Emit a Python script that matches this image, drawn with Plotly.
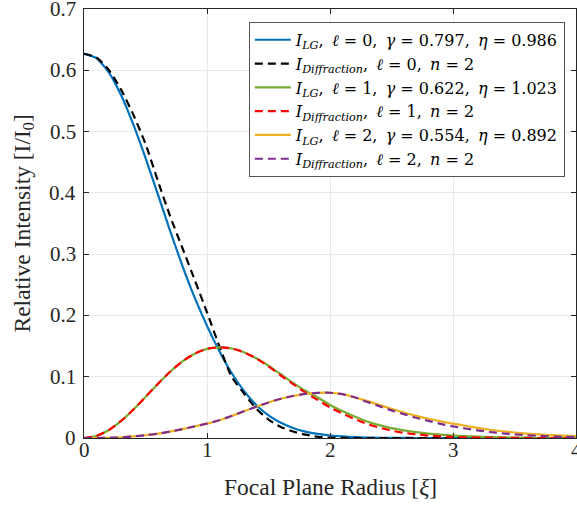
import plotly.graph_objects as go

# Focal plane radius samples
radius = [round(0.1 * i, 1) for i in range(41)]

# LG, l=0 (solid blue)
lg0 = [0.627, 0.620, 0.597, 0.560, 0.512, 0.457, 0.398, 0.338, 0.281, 0.229,
       0.183, 0.142, 0.106, 0.077, 0.054, 0.037, 0.0248, 0.0164, 0.0105, 0.0066,
       0.0041, 0.0025, 0.0015, 0.0008, 0.0004, 0.0002, 0.0001, 0.0, 0.0, 0.0,
       0.0, 0.0, 0.0, 0.0, 0.0, 0.0, 0.0, 0.0, 0.0, 0.0, 0.0]
# Diffraction, l=0 (dashed black)
diff0 = [0.627, 0.621, 0.601, 0.569, 0.528, 0.480, 0.420, 0.362, 0.310, 0.258,
         0.205, 0.150, 0.100, 0.073, 0.048, 0.030, 0.018, 0.0105, 0.0055, 0.002,
         0.0005, 0.0001, 0.0, 0.0, 0.0, 0.0, 0.0, 0.0, 0.0, 0.0,
         0.0, 0.0, 0.0, 0.0, 0.0, 0.0, 0.0, 0.0, 0.0, 0.0, 0.0]
# LG, l=1 (solid green)
lg1 = [0.0, 0.0033, 0.0127, 0.0275, 0.046, 0.067, 0.088, 0.108, 0.125, 0.1375,
       0.1455, 0.148, 0.146, 0.140, 0.130, 0.118, 0.104, 0.090, 0.077, 0.066,
       0.054, 0.044, 0.035, 0.027, 0.021, 0.016, 0.0125, 0.0095, 0.0072, 0.0054,
       0.004, 0.003, 0.0022, 0.0016, 0.0011, 0.0008, 0.0005, 0.0003, 0.0002, 0.0001, 0.0001]
# Diffraction, l=1 (dashed red)
diff1 = [0.0, 0.0033, 0.0127, 0.0275, 0.046, 0.067, 0.088, 0.108, 0.125, 0.1375,
         0.1455, 0.148, 0.146, 0.140, 0.130, 0.117, 0.102, 0.088, 0.074, 0.062,
         0.050, 0.040, 0.031, 0.023, 0.017, 0.012, 0.0085, 0.006, 0.004, 0.0027,
         0.0018, 0.0012, 0.0008, 0.0005, 0.0003, 0.0002, 0.0001, 0.0, 0.0, 0.0, 0.0]
# LG, l=2 (solid yellow)
lg2 = [0.0, 0.0, 0.0003, 0.001, 0.0025, 0.0045, 0.007, 0.0105, 0.0145, 0.019,
       0.0235, 0.029, 0.036, 0.0435, 0.051, 0.058, 0.064, 0.0685, 0.072, 0.0737,
       0.0738, 0.0715, 0.0665, 0.0605, 0.054, 0.0475, 0.0415, 0.036, 0.0315, 0.0272,
       0.0235, 0.020, 0.0165, 0.0135, 0.011, 0.009, 0.0072, 0.0058, 0.0047, 0.0038, 0.003]
# Diffraction, l=2 (dashed purple)
diff2 = [0.0, 0.0, 0.0003, 0.001, 0.0025, 0.0045, 0.007, 0.0105, 0.0145, 0.019,
         0.0235, 0.029, 0.036, 0.0435, 0.051, 0.058, 0.064, 0.0685, 0.072, 0.0737,
         0.0738, 0.0715, 0.0665, 0.059, 0.052, 0.045, 0.039, 0.033, 0.028, 0.023,
         0.019, 0.0155, 0.0125, 0.0098, 0.0077, 0.006, 0.0046, 0.0035, 0.0026, 0.0019, 0.0014]

x_ticks = [0, 1, 2, 3, 4]
x_tick_labels = ["0", "1", "2", "3", "4"]
y_ticks = [0, 0.1, 0.2, 0.3, 0.4, 0.5, 0.6, 0.7]
y_tick_labels = ["0", "0.1", "0.2", "0.3", "0.4", "0.5", "0.6", "0.7"]

c = ",\u2009 "
names = [
    f"<i>I</i><sub><i>LG</i></sub>{c}<i>ℓ</i> = 0{c}<i>γ</i> = 0.797{c}<i>η</i> = 0.986",
    f"<i>I</i><sub><i>Diffraction</i></sub>{c}<i>ℓ</i> = 0{c}<i>n</i> = 2",
    f"<i>I</i><sub><i>LG</i></sub>{c}<i>ℓ</i> = 1{c}<i>γ</i> = 0.622{c}<i>η</i> = 1.023",
    f"<i>I</i><sub><i>Diffraction</i></sub>{c}<i>ℓ</i> = 1{c}<i>n</i> = 2",
    f"<i>I</i><sub><i>LG</i></sub>{c}<i>ℓ</i> = 2{c}<i>γ</i> = 0.554{c}<i>η</i> = 0.892",
    f"<i>I</i><sub><i>Diffraction</i></sub>{c}<i>ℓ</i> = 2{c}<i>n</i> = 2",
]
series = [lg0, diff0, lg1, diff1, lg2, diff2]
colors = ["#0072BD", "#000000", "#77AC30", "#FF0000", "#EDB120", "#7E2F8E"]
dashes = ["solid", "8px,5px", "solid", "8px,5px", "solid", "8px,5px"]

SERIF = "Liberation Serif, Times New Roman, serif"
LEGEND_FONT = "DejaVu Serif, serif"
TXT = "#262626"

fig = go.Figure()
for name, ys, col, d in zip(names, series, colors, dashes):
    fig.add_trace(go.Scatter(x=radius, y=ys, mode="lines", name=name,
                             line=dict(color=col, width=2.2, dash=d, shape="spline", smoothing=0.6)))

axis_common = dict(
    showline=True, linecolor=TXT, linewidth=1, mirror="allticks",
    ticks="inside", ticklen=5, tickcolor=TXT,
    showgrid=True, gridcolor="#e8e8e8", gridwidth=1,
    zeroline=False, showticklabels=False,
)
fig.update_xaxes(range=[0, 4], tickvals=x_ticks, **axis_common)
fig.update_yaxes(range=[0, 0.7], tickvals=y_ticks, **axis_common)

annotations = []
for v, t in zip(x_ticks, x_tick_labels):
    annotations.append(dict(x=v, y=0, xref="x", yref="paper", text=t, showarrow=False,
                            xanchor="center", yanchor="middle", yshift=-12,
                            font=dict(family=SERIF, size=21, color=TXT)))
for v, t in zip(y_ticks, y_tick_labels):
    annotations.append(dict(x=0, y=v, xref="paper", yref="y", text=t, showarrow=False,
                            xanchor="right", yanchor="middle", xshift=-6,
                            font=dict(family=SERIF, size=21, color=TXT)))
annotations.append(dict(x=0.5, y=0, xref="paper", yref="paper",
                        text="Focal Plane Radius [<i>ξ</i>]", showarrow=False,
                        xanchor="center", yanchor="middle", yshift=-49,
                        font=dict(family=SERIF, size=23.5, color=TXT)))
annotations.append(dict(x=0, y=0.5, xref="paper", yref="paper",
                        text="Relative Intensity [I/I<sub>0</sub>]", showarrow=False,
                        textangle=-90, xanchor="center", yanchor="middle", xshift=-61,
                        font=dict(family=SERIF, size=23.5, color=TXT)))

fig.update_layout(
    width=577, height=506,
    margin=dict(l=84, r=1, t=9, b=68, autoexpand=False),
    plot_bgcolor="white", paper_bgcolor="white",
    font=dict(family=SERIF, color="#000000"),
    showlegend=True,
    annotations=annotations,
    legend=dict(x=0.335, y=0.97, xanchor="left", yanchor="top",
                bgcolor="white", bordercolor="#555555", borderwidth=1,
                font=dict(family=LEGEND_FONT, size=16, color="#000000"),
                tracegroupgap=0, itemwidth=36),
)

fig.write_html("out.html", config={"displayModeBar": False},
               post_script="document.body.style.margin='0';document.body.style.padding='0';")
